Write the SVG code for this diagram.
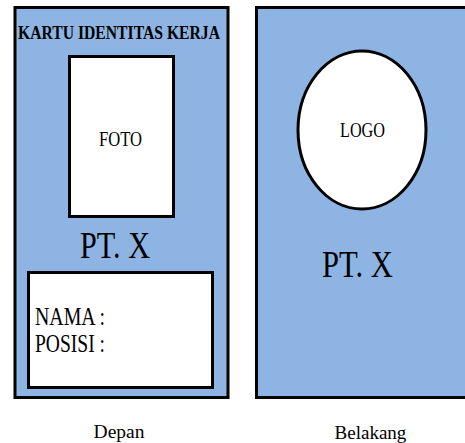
<svg xmlns="http://www.w3.org/2000/svg" width="465" height="443" viewBox="0 0 465 443">
<style>
.card{fill:#8eb4e3;stroke:#000;stroke-width:3}
.box{fill:#fff;stroke:#000;stroke-width:3}
text{font-family:"Liberation Serif","Times New Roman",serif;fill:#000}
.b{font-weight:bold}
</style>
<rect width="465" height="443" fill="#fff"/>
<g id="depan">
<rect class="card" x="15" y="7.5" width="213" height="390"/>
<text class="b" transform="translate(18,39) scale(1,1.25)" font-size="14.5" textLength="202" lengthAdjust="spacingAndGlyphs">KARTU IDENTITAS  KERJA</text>
</g>
<g id="foto">
<rect class="box" x="69.5" y="56.5" width="104" height="160"/>
<text transform="translate(99,146) scale(1,1.25)" font-size="16.5" textLength="43" lengthAdjust="spacingAndGlyphs">FOTO</text>
</g>
<text transform="translate(80,258) scale(1,1.25)" font-size="29.5" textLength="70" lengthAdjust="spacingAndGlyphs">PT. X</text>
<g id="identitas">
<rect class="box" x="28.5" y="272.5" width="184" height="115"/>
<text transform="translate(35,325) scale(1,1.25)" font-size="19.5" textLength="70" lengthAdjust="spacingAndGlyphs">NAMA :</text>
<text transform="translate(35,352) scale(1,1.25)" font-size="19.5" textLength="70" lengthAdjust="spacingAndGlyphs">POSISI  :</text>
</g>
<g id="belakang">
<rect class="card" x="256.5" y="7.5" width="215" height="390"/>
</g>
<g id="logo">
<ellipse class="box" cx="362" cy="130" rx="64" ry="79"/>
<text transform="translate(340,137) scale(1,1.3)" font-size="16" textLength="45" lengthAdjust="spacingAndGlyphs">LOGO</text>
</g>
<text transform="translate(322,277) scale(1,1.25)" font-size="29.5" textLength="71" lengthAdjust="spacingAndGlyphs">PT. X</text>
<text x="119" y="438" font-size="19.5" text-anchor="middle">Depan</text>
<text x="370.5" y="439" font-size="19" text-anchor="middle">Belakang</text>
</svg>
